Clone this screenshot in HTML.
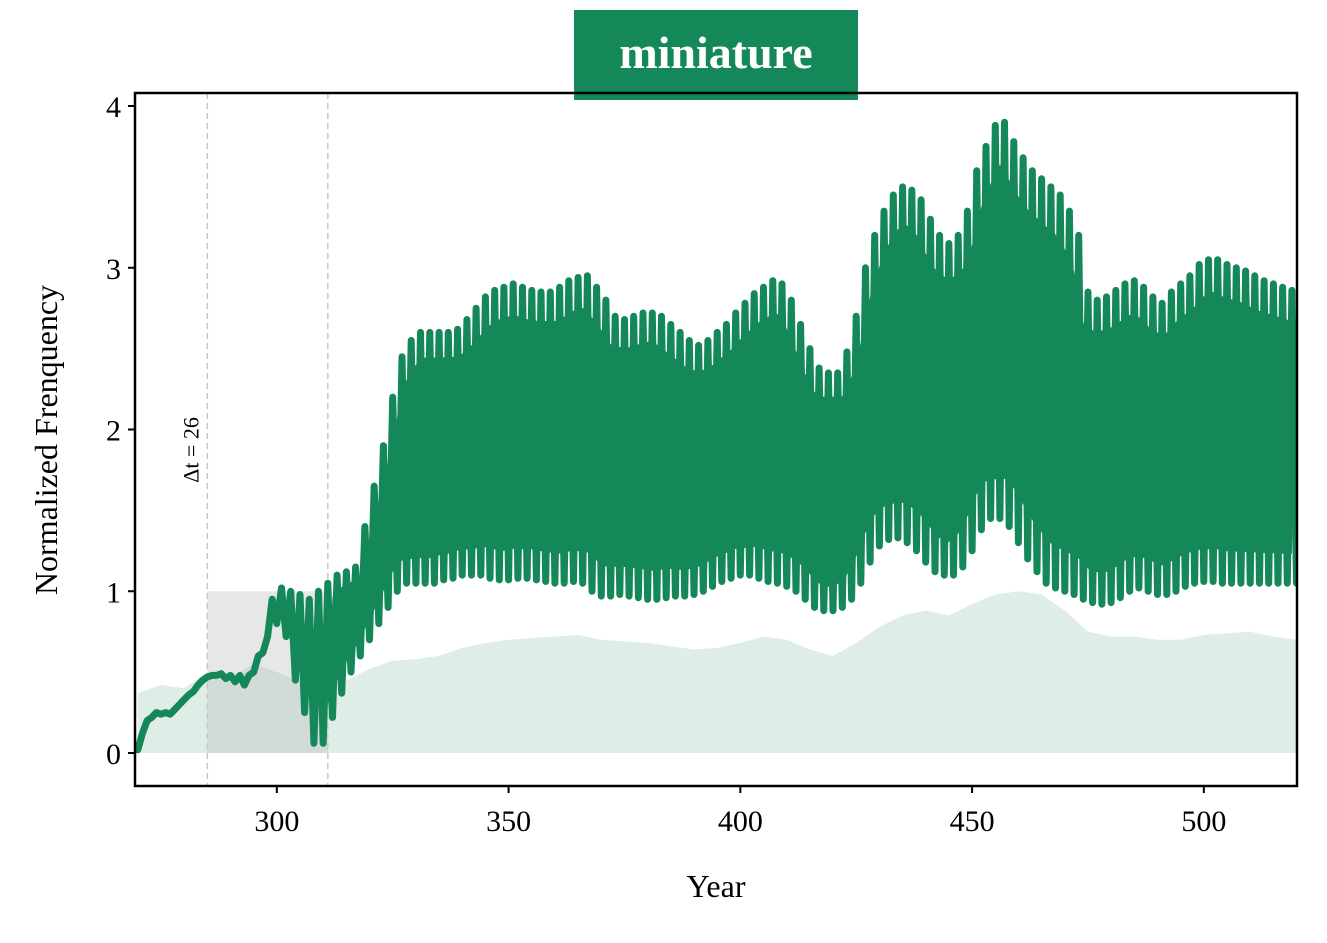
<!DOCTYPE html>
<html><head><meta charset="utf-8"><style>
body{margin:0;background:#fff;}
svg text{font-family:"Liberation Serif",serif;}
</style></head><body>
<svg id="chart" width="1327" height="938" viewBox="0 0 1327 938" xmlns="http://www.w3.org/2000/svg">
<rect x="574" y="10" width="284" height="90" fill="#15885a"/>
<text x="716" y="68" text-anchor="middle" font-size="46" font-weight="bold" fill="#fff">miniature</text>
<g id="plot"></g>
<text x="716" y="897" text-anchor="middle" font-size="32">Year</text>
<text transform="translate(57,440) rotate(-90)" text-anchor="middle" font-size="32">Normalized Frenquency</text>
</svg>
<script>
const earlyValues=[0.02,0.12,0.2,0.22,0.25,0.24,0.25,0.24,0.27,0.3,0.33,0.36,0.38,0.42,0.45,0.47,0.48,0.48,0.49,0.46,0.48,0.44,0.48,0.42,0.48,0.5,0.6,0.62,0.72];
const peakValues=[0.95,1.02,1.0,0.98,0.95,1.0,1.05,1.1,1.12,1.15,1.4,1.65,1.9,2.2,2.45,2.55,2.6,2.6,2.6,2.6,2.62,2.68,2.75,2.82,2.86,2.88,2.9,2.88,2.86,2.85,2.85,2.88,2.92,2.94,2.95,2.88,2.8,2.7,2.68,2.7,2.72,2.72,2.7,2.65,2.6,2.55,2.52,2.55,2.6,2.65,2.72,2.78,2.84,2.88,2.92,2.9,2.8,2.65,2.5,2.38,2.35,2.35,2.48,2.7,3.0,3.2,3.35,3.45,3.5,3.48,3.42,3.3,3.2,3.15,3.2,3.35,3.6,3.75,3.88,3.9,3.78,3.68,3.6,3.55,3.5,3.45,3.35,3.2,2.85,2.8,2.82,2.86,2.9,2.92,2.88,2.82,2.78,2.85,2.9,2.95,3.02,3.05,3.05,3.02,3.0,2.98,2.95,2.92,2.9,2.88,2.86];
const troughValues=[0.8,0.72,0.45,0.25,0.06,0.06,0.22,0.37,0.5,0.6,0.7,0.8,0.9,1.0,1.05,1.05,1.05,1.05,1.07,1.08,1.1,1.1,1.1,1.08,1.07,1.07,1.08,1.08,1.07,1.06,1.05,1.05,1.06,1.05,1.0,0.97,0.97,0.98,0.97,0.96,0.95,0.95,0.96,0.97,0.97,0.98,1.0,1.03,1.06,1.08,1.1,1.1,1.08,1.06,1.05,1.03,1.0,0.95,0.9,0.88,0.88,0.9,0.95,1.05,1.18,1.28,1.32,1.33,1.3,1.25,1.18,1.12,1.1,1.1,1.15,1.25,1.38,1.45,1.45,1.4,1.3,1.2,1.12,1.05,1.02,1.0,0.98,0.95,0.93,0.92,0.93,0.96,1.0,1.02,1.0,0.98,0.98,1.0,1.03,1.05,1.06,1.06,1.05,1.05,1.05,1.05,1.05,1.05,1.05,1.05,1.05];
const bgValues=[0.37,0.42,0.4,0.5,0.47,0.55,0.5,0.44,0.42,0.45,0.52,0.57,0.58,0.6,0.65,0.68,0.7,0.71,0.72,0.73,0.7,0.69,0.68,0.66,0.64,0.65,0.68,0.72,0.7,0.64,0.6,0.68,0.78,0.85,0.88,0.85,0.92,0.98,1.0,0.98,0.88,0.75,0.72,0.72,0.7,0.7,0.73,0.74,0.75,0.72,0.7];
const xTicks=[300,350,400,450,500];
const yTicks=[0,1,2,3,4];
const windowStart=285, windowEnd=311, windowLabel="Δt = 26";

const X0=135,X1=1297,Y0=93,Y1=786;
const xmin=269.4,xmax=520.1;
const sx=v=>X0+(v-xmin)/(xmax-xmin)*(X1-X0);
const sy=v=>753-v*161.75;
const NS="http://www.w3.org/2000/svg";
const g=document.getElementById('plot');
function mk(t,a){const e=document.createElementNS(NS,t);for(const k in a)e.setAttribute(k,a[k]);g.appendChild(e);return e;}

const clip=mk('clipPath',{id:'cp'});
const cr=document.createElementNS(NS,'rect');cr.setAttribute('x',X0);cr.setAttribute('y',Y0);cr.setAttribute('width',X1-X0);cr.setAttribute('height',Y1-Y0);clip.appendChild(cr);

let d='M'+sx(270)+','+sy(0);
bgValues.forEach((v,i)=>{d+=' L'+sx(270+i*5)+','+sy(v);});
d+=' L'+sx(270+(bgValues.length-1)*5)+','+sy(0)+' Z';
const area=mk('path',{d:d,fill:'#deede6','clip-path':'url(#cp)'});



const wr=mk('rect',{x:sx(windowStart),y:sy(1),width:sx(windowEnd)-sx(windowStart),height:sy(0)-sy(1),fill:'#bbbbbb','fill-opacity':0.35});


[windowStart,windowEnd].forEach(v=>{
  const l=mk('line',{x1:sx(v),x2:sx(v),y1:Y0,y2:Y1,stroke:'#c8c8c8','stroke-width':1.5,'stroke-dasharray':'6,4'});
  
  
});
const wt=mk('text',{transform:'translate('+(sx(windowStart)-9)+',450) rotate(-90)','text-anchor':'middle','font-size':22});
wt.textContent=windowLabel;



const n=peakValues.length;
const topEdge=[],botEdge=[];
for(let i=6;i<n;i++){
  const p=peakValues[i], tb=troughValues[i-1], ta=troughValues[Math.min(i,troughValues.length-1)];
  const mt=Math.max(tb,ta), r=p-mt;
  botEdge.push([299+2*i, mt+0.1*r]);
}
for(let i=6;i<troughValues.length;i++){
  const t=troughValues[i], pa=peakValues[i], pb=peakValues[Math.min(i+1,n-1)];
  const mp=Math.min(pa,pb), r=mp-t;
  topEdge.push([300+2*i, mp-0.1*r]);
}
let bd='';topEdge.forEach((p,i)=>{bd+=(i?' L':'M')+sx(p[0]).toFixed(1)+','+sy(p[1]).toFixed(1);});
botEdge.slice().reverse().forEach(p=>{bd+=' L'+sx(p[0]).toFixed(1)+','+sy(p[1]).toFixed(1);});
bd+=' Z';
const band=mk('path',{d:bd,fill:'#15885a','clip-path':'url(#cp)'});



const pts=[];
earlyValues.forEach((v,i)=>pts.push([270+i,v]));
for(let i=0;i<n;i++){pts.push([299+2*i,peakValues[i]]);if(i<troughValues.length)pts.push([300+2*i,troughValues[i]]);}
let ld='';pts.forEach((p,i)=>{ld+=(i?' L':'M')+sx(p[0]).toFixed(1)+','+sy(p[1]).toFixed(1);});
const line=mk('path',{d:ld,fill:'none',stroke:'#15885a','stroke-width':7,'stroke-linejoin':'round','stroke-linecap':'round','clip-path':'url(#cp)'});



const fr=mk('rect',{x:X0,y:Y0,width:X1-X0,height:Y1-Y0,fill:'none',stroke:'#000','stroke-width':2.5});


xTicks.forEach(t=>{
  const tk=mk('line',{x1:sx(t),x2:sx(t),y1:Y1,y2:Y1+7,stroke:'#000','stroke-width':2});
  
  
  const tl=mk('text',{x:sx(t),y:Y1+45,'text-anchor':'middle','font-size':30});
  tl.textContent=t;
  
  
});
yTicks.forEach(t=>{
  const tk=mk('line',{x1:X0-7,x2:X0,y1:sy(t),y2:sy(t),stroke:'#000','stroke-width':2});
  
  
  const tl=mk('text',{x:X0-14,y:sy(t)+11,'text-anchor':'end','font-size':30});
  tl.textContent=t;
  
  
});
</script>
</body></html>
